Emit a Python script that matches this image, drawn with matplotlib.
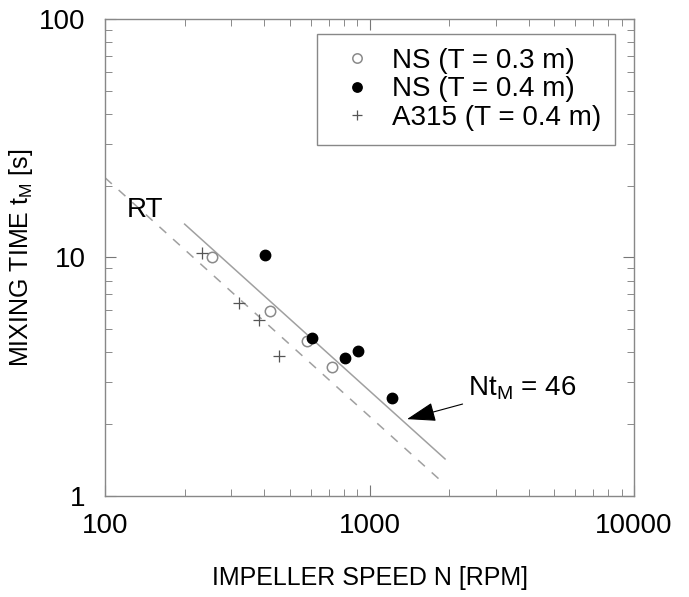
import matplotlib
matplotlib.use("Agg")
import matplotlib.pyplot as plt
from matplotlib.ticker import LogLocator, NullFormatter, FixedLocator

plt.rcParams['font.family'] = ['Liberation Sans', 'DejaVu Sans']

# data
ns03_n = [253, 422, 582, 723]
ns03_t = [10.0, 5.98, 4.47, 3.48]

ns04_n = [403, 606, 808, 907, 1213]
ns04_t = [10.24, 4.58, 3.78, 4.07, 2.57]

a315_n = [232, 322, 383, 454]
a315_t = [10.4, 6.46, 5.47, 3.86]

# correlation lines (end points)
nt46_n = [200, 1930]
nt46_t = [13.8, 1.43]
rt_n = [100, 1875]
rt_t = [21.6, 1.15]

fig = plt.figure(figsize=(6.89, 5.97), dpi=100)
ax = fig.add_axes([0.1524, 0.1692, 0.7678, 0.799])
ax.set_xscale('log')
ax.set_yscale('log')

gray = '#a0a0a0'
ax.plot(nt46_n, nt46_t, color=gray, lw=1.1)
ax.plot(rt_n, rt_t, color=gray, lw=1.1, dashes=(6, 6))

ax.plot(ns03_n, ns03_t, 'o', ls='none', mfc='white', mec='#8a8a8a', mew=1.1, ms=7.5,
        label='NS (T = 0.3 m)')
ax.plot(ns04_n, ns04_t, 'o', ls='none', color='black', ms=7.5,
        label='NS (T = 0.4 m)')
ax.plot(a315_n, a315_t, '+', ls='none', color='#555555', mew=0.9, ms=8,
        label='A315 (T = 0.4 m)')

ax.text(121, 15.8, 'RT', fontsize=20, va='center', ha='left')
ax.annotate('Nt$_\\mathregular{M}$ = 46', xy=(1386, 2.1), xytext=(2358, 2.84),
            fontsize=20, va='center', ha='left',
            arrowprops=dict(arrowstyle='-|>,head_length=0.9,head_width=0.3',
                            color='black', lw=0.8, shrinkA=2, shrinkB=0))

ax.set_xlim(100, 10000)
ax.set_ylim(1, 100)
ax.xaxis.set_major_locator(FixedLocator([100, 1000, 10000]))
ax.yaxis.set_major_locator(FixedLocator([1, 10, 100]))
ax.xaxis.set_minor_locator(LogLocator(base=10, subs=range(2, 10)))
ax.yaxis.set_minor_locator(LogLocator(base=10, subs=range(2, 10)))
ax.xaxis.set_minor_formatter(NullFormatter())
ax.yaxis.set_minor_formatter(NullFormatter())
ax.set_xticklabels(['100', '1000', '10000'])
ax.set_yticklabels(['1', '10', '100'])

ax.tick_params(which='both', direction='in', top=True, right=True,
               color='#777777', labelsize=20)
ax.tick_params(which='major', length=8)
ax.tick_params(axis='x', which='major', pad=12)
ax.tick_params(axis='y', which='major', pad=14)
ax.tick_params(which='minor', length=5)
for sp in ax.spines.values():
    sp.set_color('#888888')
    sp.set_linewidth(1.0)

ax.set_xlabel('IMPELLER SPEED N [RPM]', fontsize=18, labelpad=20)
ax.set_ylabel('MIXING TIME t$_\\mathregular{M}$ [s]', fontsize=18, labelpad=3)

leg = ax.legend(loc='upper right', bbox_to_anchor=(0.964, 0.969), fontsize=20,
                fancybox=False, edgecolor='#888888', framealpha=1,
                labelspacing=0.1, handlelength=1.9, handletextpad=0.3,
                borderpad=0.5, borderaxespad=0, markerscale=0.9)
leg.get_frame().set_linewidth(1.0)

fig.savefig('out.png', dpi=100)
